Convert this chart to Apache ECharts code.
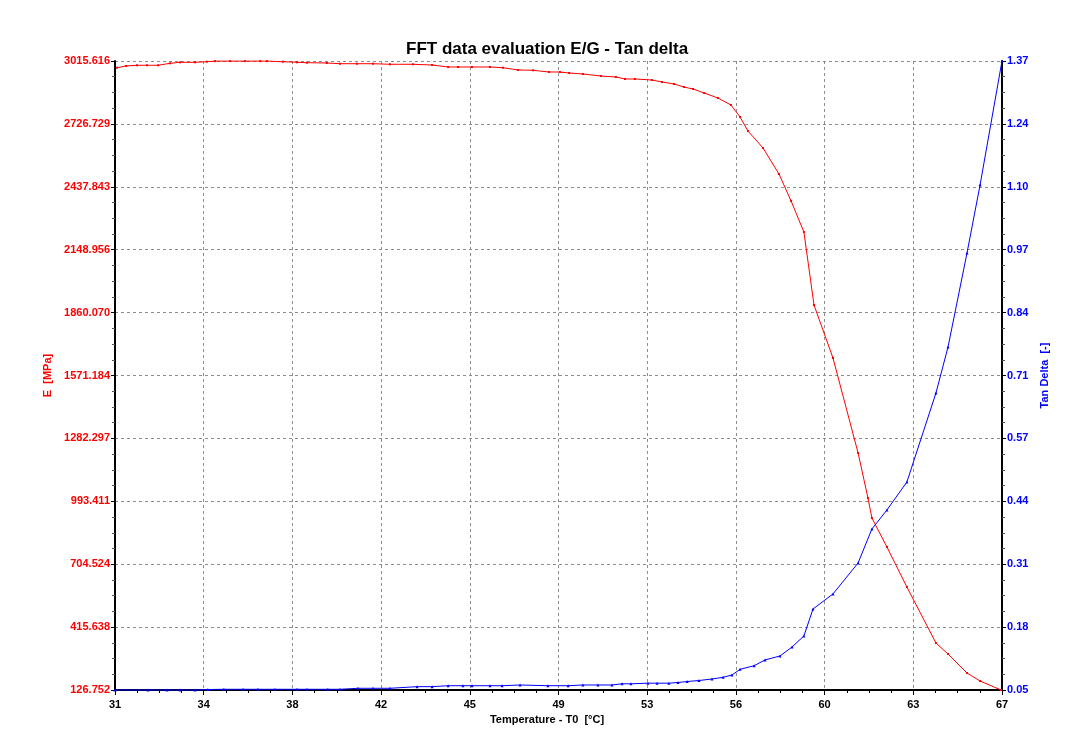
<!DOCTYPE html>
<html>
<head>
<meta charset="utf-8">
<script src="https://cdn.jsdelivr.net/npm/echarts@6/dist/echarts.min.js"></script>
<style>
html,body{margin:0;padding:0;background:#fff;}
#chart{width:1072px;height:747px;}
</style>
</head>
<body>
<div id="chart"></div>
<script>
// ---- Data ----
const tempTickLabels = ['31','34','38','42','45','49','53','56','60','63','67'];
const eTickLabels = ['126.752','415.638','704.524','993.411','1282.297','1571.184','1860.070','2148.956','2437.843','2726.729','3015.616'];
const tanTickLabels = ['0.05','0.18','0.31','0.44','0.57','0.71','0.84','0.97','1.10','1.24','1.37'];

const tempRange = [31, 67];
const eRange = [126.752, 3015.616];
const tanRange = [0.05, 1.37];

// E modulus [MPa] vs temperature
const eTemp = [31.08,31.45,31.89,32.30,32.75,33.23,33.64,34.25,34.73,35.06,35.67,36.28,36.89,37.17,37.82,38.39,38.79,39.60,40.13,40.82,41.47,42.16,43.09,43.87,44.52,44.92,45.49,46.22,46.75,47.36,47.97,48.61,49.06,49.43,49.99,50.72,51.33,51.70,52.10,52.79,53.20,53.69,54.09,54.46,54.91,55.47,56.00,56.37,56.69,57.30,57.95,58.44,58.96,59.37,60.14,61.16,61.56,61.72,62.33,63.14,64.32,64.81,65.58,66.11,66.96];
const eValues = [2984.8,2992.7,2995.9,2995.9,2995.9,3005.0,3009.6,3009.6,3012.4,3015.0,3015.0,3015.0,3015.0,3015.0,3012.4,3009.6,3007.9,3006.5,3003.2,3003.2,3003.2,3000.5,3000.5,2997.3,2988.1,2988.1,2988.1,2988.1,2984.8,2974.3,2972.9,2965.1,2965.0,2960.5,2956.0,2946.7,2942.1,2933.0,2933.0,2928.4,2919.2,2910.0,2896.2,2887.0,2868.7,2845.7,2813.5,2758.4,2694.1,2616.1,2496.6,2372.6,2230.3,1894.9,1651.6,1215.3,1008.6,916.7,783.5,599.8,342.6,292.1,204.8,168.1,126.8];

// Tan delta vs temperature
const tanTemp = [31.00,32.34,33.11,33.64,34.25,34.77,35.42,36.20,36.80,37.49,38.39,38.79,39.64,40.13,40.86,41.47,42.16,43.26,43.87,44.52,45.12,45.49,46.22,46.71,47.44,48.57,49.39,49.99,50.60,51.17,51.58,51.94,52.63,53.00,53.48,53.85,54.22,54.70,55.23,55.68,56.04,56.37,56.94,57.38,57.99,58.48,58.96,59.33,60.14,61.16,61.72,62.33,63.14,64.32,64.81,65.58,66.11,67.00];
const tanValues = [0.050,0.050,0.050,0.050,0.050,0.051,0.0515,0.0515,0.0515,0.0515,0.0515,0.0515,0.0515,0.0515,0.0536,0.0536,0.0536,0.057,0.057,0.059,0.059,0.059,0.059,0.059,0.0605,0.059,0.059,0.0605,0.0605,0.0605,0.063,0.063,0.0643,0.0643,0.0643,0.0657,0.0678,0.0699,0.0731,0.0766,0.0815,0.0934,0.1010,0.1130,0.1214,0.1403,0.1634,0.2200,0.2515,0.3166,0.3879,0.4278,0.4865,0.6733,0.7699,0.9671,1.1098,1.3702];

const eSeries = eTemp.map((t, i) => [t, eValues[i]]);
const tanSeries = tanTemp.map((t, i) => [t, tanValues[i]]);

const FONT = 'Liberation Sans, Arial, sans-serif';
const gridLine = { show: true, lineStyle: { color: '#8c8c8c', type: [3, 3], width: 1 } };

const chart = echarts.init(document.getElementById('chart'), null, { renderer: 'canvas' });
chart.setOption({
  backgroundColor: '#ffffff',
  animation: false,
  title: {
    text: 'FFT data evaluation E/G - Tan delta',
    left: 401, top: 36,
    textStyle: { fontFamily: FONT, fontSize: 17, fontWeight: 'bold', color: '#000' }
  },
  grid: { left: 115, right: 70, top: 61, bottom: 57, containLabel: false },
  xAxis: [
    {
      type: 'value', min: 0, max: 10, interval: 1, position: 'bottom',
      name: 'Temperature - T0  [°C]', nameLocation: 'middle', nameGap: 23,
      nameTextStyle: { fontFamily: FONT, fontSize: 11, fontWeight: 'bold', color: '#000', padding: [0, 23, 0, 0] },
      axisLine: { show: true, onZero: false, lineStyle: { color: '#000', width: 2 } },
      axisTick: { show: true, inside: false, length: 5, lineStyle: { color: '#000' } },
      minorTick: { show: true, splitNumber: 4, length: 3, lineStyle: { color: '#000' } },
      axisLabel: { margin: 9, fontFamily: FONT, fontSize: 11, fontWeight: 'bold', color: '#000',
        formatter: v => tempTickLabels[Math.round(v)] },
      splitLine: gridLine
    },
    { type: 'value', min: tempRange[0], max: tempRange[1], show: false, position: 'bottom' }
  ],
  yAxis: [
    {
      type: 'value', min: 0, max: 10, interval: 1, position: 'left',
      name: 'E  [MPa]', nameLocation: 'middle', nameGap: 61, nameRotate: 90,
      nameTextStyle: { fontFamily: FONT, fontSize: 11, fontWeight: 'bold', color: '#ff0000' },
      axisLine: { show: true, onZero: false, lineStyle: { color: '#000', width: 2 } },
      axisTick: { show: true, inside: false, length: 4, lineStyle: { color: '#000' } },
      minorTick: { show: true, splitNumber: 4, length: 3, lineStyle: { color: '#555' } },
      axisLabel: { margin: 5, fontFamily: FONT, fontSize: 11, fontWeight: 'bold', color: '#ff0000',
        formatter: v => eTickLabels[Math.round(v)] },
      splitLine: gridLine
    },
    { type: 'value', min: eRange[0], max: eRange[1], show: false, position: 'left' },
    {
      type: 'value', min: 0, max: 10, interval: 1, position: 'right',
      name: 'Tan Delta  [-]', nameLocation: 'middle', nameGap: 36, nameRotate: 90,
      nameTextStyle: { fontFamily: FONT, fontSize: 11, fontWeight: 'bold', color: '#0000ff' },
      axisLine: { show: true, onZero: false, lineStyle: { color: '#000', width: 2 } },
      axisTick: { show: true, inside: false, length: 4, lineStyle: { color: '#000' } },
      minorTick: { show: true, splitNumber: 4, length: 3, lineStyle: { color: '#555' } },
      axisLabel: { margin: 5, fontFamily: FONT, fontSize: 11, fontWeight: 'bold', color: '#0000ff',
        formatter: v => tanTickLabels[Math.round(v)] },
      splitLine: { show: false }
    },
    { type: 'value', min: tanRange[0], max: tanRange[1], show: false, position: 'right' }
  ],
  series: [
    {
      name: 'E', type: 'line', xAxisIndex: 1, yAxisIndex: 1, data: eSeries,
      clip: false, z: 3,
      lineStyle: { color: '#ff0000', width: 1 },
      symbol: 'rect', symbolSize: 2, showSymbol: true,
      itemStyle: { color: '#ff0000' }
    },
    {
      name: 'Tan Delta', type: 'line', xAxisIndex: 1, yAxisIndex: 3, data: tanSeries,
      clip: false, z: 3,
      lineStyle: { color: '#0000ff', width: 1 },
      symbol: 'triangle', symbolSize: 3, showSymbol: true,
      itemStyle: { color: '#0000ff' }
    }
  ]
});
</script>
</body>
</html>
